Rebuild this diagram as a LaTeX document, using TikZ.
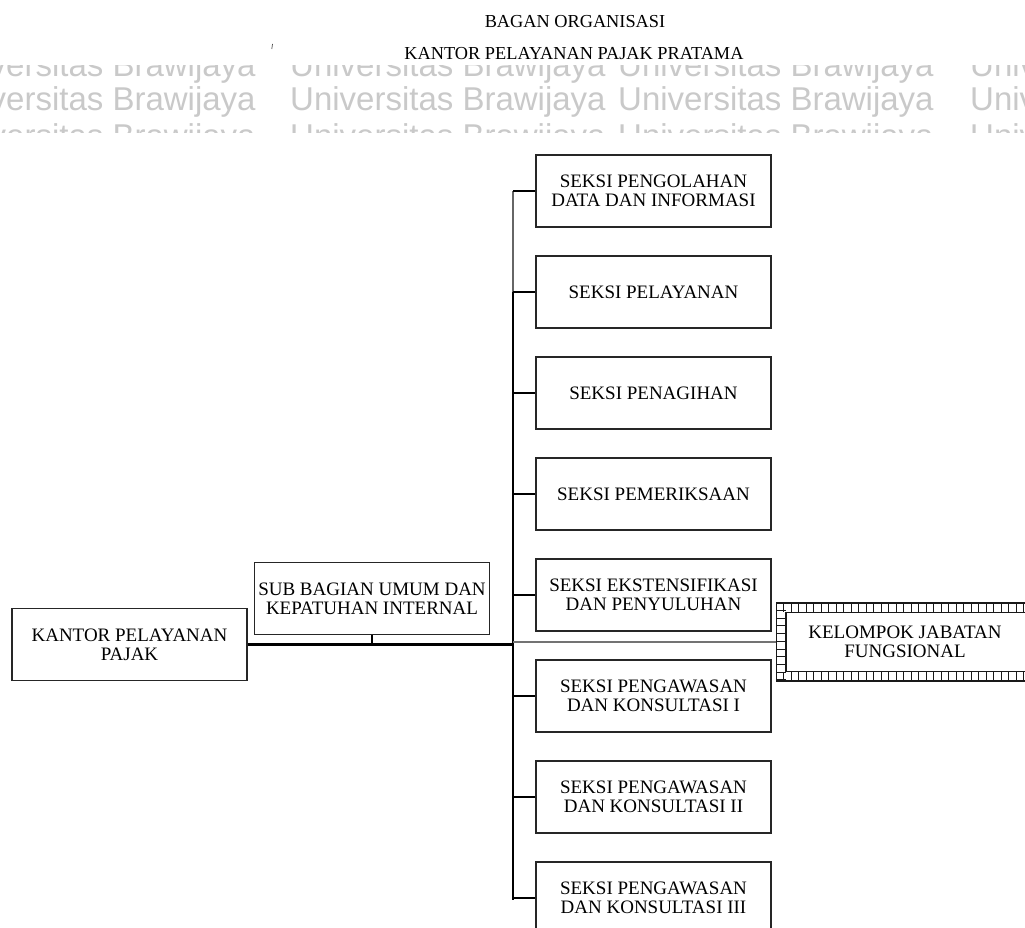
\documentclass[tikz,border=0pt]{standalone}
\usepackage{fontspec}
\usepackage{graphicx}
\setmainfont{Liberation Serif}
\newfontfamily\wmfont{Liberation Sans}
\usetikzlibrary{calc}

\begin{document}
\begin{tikzpicture}[x=1pt,y=-1pt,
  unit/.style={draw=black!85, line width=1.3pt, fill=white, minimum width=235pt,
    minimum height=72pt, inner sep=0pt, align=center,
    font=\fontsize{19}{19}\selectfont},
  spine/.style={line width=2pt, black},
  trunk/.style={line width=3pt, black},
  stub/.style={line width=1.4pt, black},
  faint/.style={line width=1.2pt, black!55},
  heading/.style={font=\fontsize{18.3}{18.3}\selectfont, inner sep=0pt},
  wmtext/.style={inner sep=0pt, anchor=base west, text=black!21,
    font=\wmfont\fontsize{33}{33}\selectfont},
  rung/.style={line width=1pt, black!90}
]
\useasboundingbox (0,0) rectangle (1025,928);
\clip (0,0) rectangle (1025,928);

% watermark band
\begin{scope}
  \clip (0,66) rectangle (1025,133);
  \foreach \yb in {77,111,148} {
    \foreach \xs in {-60,290,618,970} {
      \node[wmtext] at (\xs,\yb) {Universitas Brawijaya};
    }
  }
\end{scope}

% headings
\node[heading] (t1) at (575,22) {BAGAN ORGANISASI};
\node[heading] (t2) at (574,54) {KANTOR PELAYANAN PAJAK PRATAMA};
\draw[line width=0.7pt, black!70] (272.5,44) -- (271.8,49);

% units
\node[unit] (kpp) at (129.5,644.5) {KANTOR PELAYANAN\\PAJAK};
\node[unit] (sub) at (372,598.5) {SUB BAGIAN UMUM DAN\\KEPATUHAN INTERNAL};

\node[unit] (s1) at (653.5,191) {SEKSI PENGOLAHAN\\DATA DAN INFORMASI};
\node[unit] (s2) at (653.5,292) {SEKSI PELAYANAN};
\node[unit] (s3) at (653.5,393) {SEKSI PENAGIHAN};
\node[unit] (s4) at (653.5,494) {SEKSI PEMERIKSAAN};
\node[unit] (s5) at (653.5,595) {SEKSI EKSTENSIFIKASI\\DAN PENYULUHAN};
\node[unit] (s6) at (653.5,696) {SEKSI PENGAWASAN\\DAN KONSULTASI I};
\node[unit] (s7) at (653.5,797) {SEKSI PENGAWASAN\\DAN KONSULTASI II};
\node[unit] (s8) at (653.5,898) {SEKSI PENGAWASAN\\DAN KONSULTASI III};

% functional group with chain border
\node[unit, draw=none, minimum width=256pt, minimum height=77pt] (kjf) at (905,642)
  {KELOMPOK JABATAN\\FUNGSIONAL};
\draw[line width=1.5pt, black!90] (kjf.north west) rectangle ($(kjf.south east)+(20,0)$);
\draw[line width=1.5pt, black!90] ($(kjf.north west)+(9.5,9.5)$) rectangle ($(kjf.south east)+(20,-9.5)$);
\foreach \k in {0,...,36} {
  \draw[rung] ($(kjf.north west)+(7.5*\k,0)$) -- ++(0,9.5);
  \draw[rung] ($(kjf.south west)+(7.5*\k,0)$) -- ++(0,-9.5);
}
\foreach \k in {0,...,10} {
  \draw[rung] ($(kjf.north west)+(0,7.7*\k)$) -- ++(9.5,0);
}

% connectors
\coordinate (top) at (513,191);
\coordinate (bot) at (513,900);
\draw[spine] (s2.west -| top) -- (bot);
\draw[line width=1.6pt, black!60] (top) -- (s2.west -| top);
\draw[trunk] (kpp.east) -- (kpp.east -| top);
\draw[stub] (sub.south) -- (sub.south |- kpp.east);
\draw[faint] (kjf.west -| top) -- (kjf.west);
\foreach \s in {s1,s2,s3,s4,s5,s6,s7,s8} {
  \draw[stub] (\s.west -| top) -- (\s.west);
}
\end{tikzpicture}
\end{document}
